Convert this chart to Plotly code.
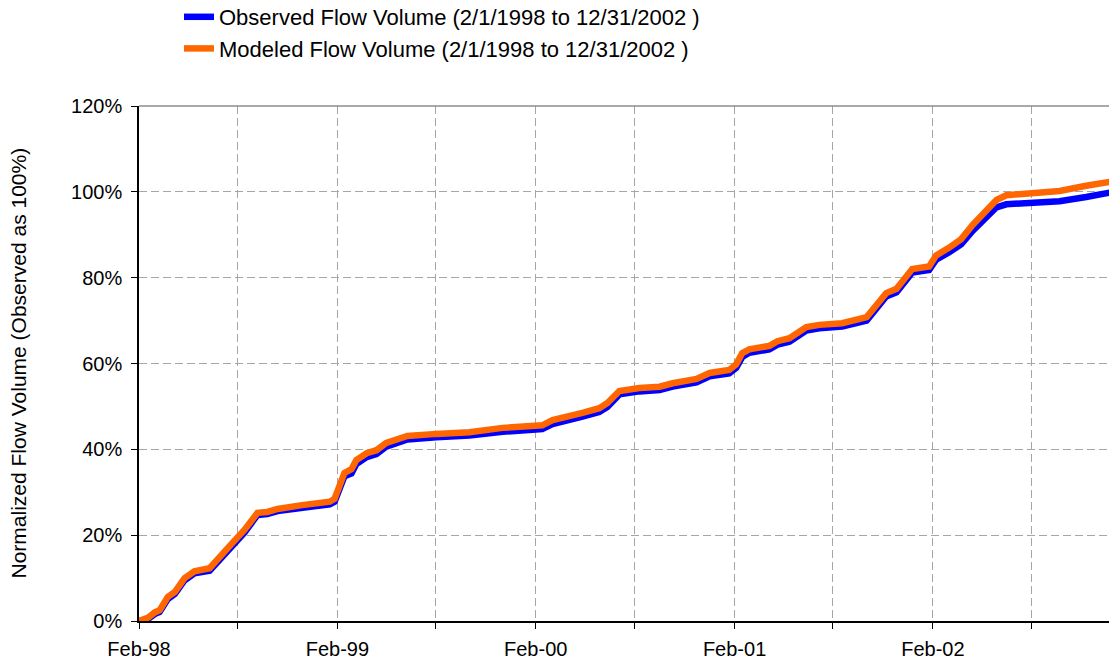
import plotly.graph_objects as go

dates = [
    "1998-02-01", "1998-02-18", "1998-03-02", "1998-03-11", "1998-03-26", "1998-04-08",
    "1998-04-26", "1998-05-14", "1998-06-11", "1998-06-29", "1998-07-23", "1998-08-14",
    "1998-09-07", "1998-09-25", "1998-10-14", "1998-11-28", "1999-01-18", "1999-01-27",
    "1999-02-09", "1999-02-14", "1999-02-27", "1999-03-08", "1999-03-27", "1999-04-14",
    "1999-05-02", "1999-05-23", "1999-06-10", "1999-08-02", "1999-10-02", "1999-12-02",
    "2000-01-26", "2000-02-13", "2000-03-03", "2000-03-21", "2000-04-27", "2000-05-28",
    "2000-06-12", "2000-07-04", "2000-08-10", "2000-09-16", "2000-10-10", "2000-11-23",
    "2000-12-17", "2001-01-22", "2001-02-04", "2001-02-15", "2001-02-28", "2001-04-06",
    "2001-04-21", "2001-05-13", "2001-06-13", "2001-07-07", "2001-08-18", "2001-10-02",
    "2001-11-07", "2001-11-26", "2001-12-10", "2001-12-25", "2002-01-25", "2002-02-07",
    "2002-03-03", "2002-03-25", "2002-04-15", "2002-05-07", "2002-05-29", "2002-06-16",
    "2002-07-28", "2002-09-22", "2002-11-10", "2002-12-21", "2002-12-31",
]

observed = [
    0.0, 0.5, 1.6, 2.1, 5.1, 6.3, 9.5, 11.1, 11.7, 14.3, 17.4, 20.6,
    24.7, 24.9, 25.6, 26.5, 27.2, 27.8, 31.6, 33.7, 34.4, 36.6, 38.2, 38.9,
    40.6, 41.4, 42.3, 42.8, 43.2, 44.1, 44.5, 44.7, 45.9, 46.4, 47.6, 48.7,
    49.9, 52.8, 53.5, 53.8, 54.6, 55.6, 57.0, 57.7, 59.0, 61.5, 62.5, 63.3,
    64.4, 65.1, 67.7, 68.2, 68.6, 70.0, 75.6, 76.6, 78.6, 81.2, 81.8, 84.2,
    85.9, 87.8, 90.9, 93.5, 96.4, 97.1, 97.5, 97.8, 98.8, 99.7, 100.0,
]

modeled = [
    0.0, 0.8, 2.0, 2.5, 5.6, 6.8, 10.0, 11.6, 12.3, 15.0, 18.2, 21.2,
    25.2, 25.4, 26.1, 27.0, 27.8, 28.5, 32.5, 34.5, 35.4, 37.5, 39.1, 39.8,
    41.5, 42.2, 43.1, 43.6, 44.0, 45.0, 45.4, 45.6, 46.8, 47.3, 48.5, 49.6,
    50.8, 53.6, 54.3, 54.6, 55.4, 56.4, 57.8, 58.5, 59.8, 62.4, 63.3, 64.1,
    65.2, 65.9, 68.5, 69.0, 69.4, 70.8, 76.4, 77.4, 79.5, 82.0, 82.6, 85.2,
    87.0, 89.0, 92.3, 95.1, 98.1, 99.2, 99.7, 100.2, 101.4, 102.1, 102.5,
]

tick_dates = [
    "1998-02-01", "1998-08-01", "1999-02-01", "1999-08-01", "2000-02-01", "2000-08-01",
    "2001-02-01", "2001-08-01", "2002-02-01", "2002-08-01",
]
tick_labels = ["Feb-98", "", "Feb-99", "", "Feb-00", "", "Feb-01", "", "Feb-02", ""]

y_ticks = [0, 20, 40, 60, 80, 100, 120]
y_labels = ["0%", "20%", "40%", "60%", "80%", "100%", "120%"]

y_title = "Normalized Flow Volume (Observed as 100%)"

FONT = "Liberation Sans, Arial, sans-serif"

fig = go.Figure()
fig.add_trace(go.Scatter(
    x=dates, y=observed, mode="lines",
    name="Observed Flow Volume (2/1/1998 to 12/31/2002 )",
    line=dict(color="#0000FF", width=6.5),
))
fig.add_trace(go.Scatter(
    x=dates, y=modeled, mode="lines",
    name="Modeled Flow Volume (2/1/1998 to 12/31/2002 )",
    line=dict(color="#FF6600", width=6.5),
))

grid = dict(showgrid=True, gridcolor="#A6A6A6", gridwidth=1, griddash="8px,4px")

fig.update_xaxes(
    type="date",
    range=["1998-02-01", "2002-12-22"],
    tickmode="array", tickvals=tick_dates, ticktext=tick_labels,
    ticks="outside", ticklen=6, tickcolor="#000000", tickwidth=1,
    ticklabelstandoff=3,
    showline=True, linecolor="#000000", linewidth=1.5,
    tickfont=dict(family=FONT, size=20, color="#000000"),
    zeroline=False,
    **grid,
)
fig.update_yaxes(
    range=[0, 120],
    tickmode="array", tickvals=y_ticks, ticktext=y_labels,
    ticks="outside", ticklen=6, tickcolor="#000000", tickwidth=1,
    ticklabelstandoff=5,
    showline=True, linecolor="#000000", linewidth=1.5,
    tickfont=dict(family=FONT, size=20, color="#000000"),
    zeroline=False,
    **grid,
)

fig.add_shape(type="line", xref="x domain", yref="y domain", x0=0, x1=1, y0=1, y1=1,
              line=dict(color="#8C8C8C", width=1.5))

fig.add_annotation(
    text=y_title, textangle=-90, showarrow=False,
    xref="paper", yref="paper", x=(18 - 139) / 970, y=0.5,
    xanchor="center", yanchor="middle",
    font=dict(family=FONT, size=21, color="#000000"),
)

fig.update_layout(
    width=1109, height=664,
    margin=dict(l=139, r=0, t=106, b=43, autoexpand=False),
    paper_bgcolor="#FFFFFF", plot_bgcolor="#FFFFFF",
    showlegend=True,
    legend=dict(
        xref="paper", yref="paper", x=(179 - 139) / 970, y=(621 + 4) / 515,
        xanchor="left", yanchor="top",
        font=dict(family=FONT, size=22, color="#000000"),
        itemwidth=30, tracegroupgap=0, bgcolor="rgba(0,0,0,0)",
    ),
    font=dict(family=FONT, size=20, color="#000000"),
)

fig.write_html("out.html", config={"displayModeBar": False},
               post_script="document.body.style.margin='0px';")
